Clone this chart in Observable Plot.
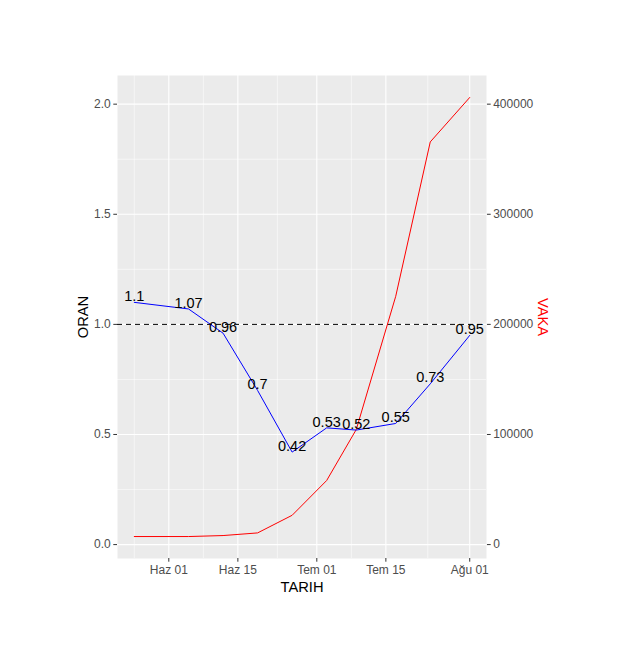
<!DOCTYPE html>
<html><head><meta charset="utf-8">
<script src="https://cdn.jsdelivr.net/npm/d3@7"></script>
<script src="https://cdn.jsdelivr.net/npm/@observablehq/plot@0.6"></script>
<style>body{margin:0;background:#fff;} #chart svg{display:block;}</style>
</head><body><div id="chart"></div>
<script>
// ---- data ----
const dates = ["2020-05-25","2020-06-05","2020-06-12","2020-06-19","2020-06-26","2020-07-03","2020-07-09","2020-07-17","2020-07-24","2020-08-01"];
const oran = [1.1, 1.07, 0.96, 0.7, 0.42, 0.53, 0.52, 0.55, 0.73, 0.95];
const vaka = [7300, 7300, 8200, 10600, 26600, 58200, 104500, 225500, 365700, 406100];
const xTickDates = ["2020-06-01","2020-06-15","2020-07-01","2020-07-15","2020-08-01"];
const xTickLabels = ["Haz 01","Haz 15","Tem 01","Tem 15","Ağu 01"];
const yTicks = [0, 0.5, 1, 1.5, 2];
const yMinorTicks = [0.25, 0.75, 1.25, 1.75];
const secondScale = 200000; // VAKA = ORAN * 200000
const refLine = 1;

// ---- build ----
const parse = s => new Date(s + "T00:00:00Z");
const data = dates.map((d, i) => ({date: parse(d), oran: oran[i], vaka: vaka[i], v2: vaka[i] / secondScale}));
const xMajor = xTickDates.map(parse);
const labelMap = new Map(xMajor.map((d, i) => [+d, xTickLabels[i]]));
const step = xMajor[1] - xMajor[0];
const xMinor = [new Date(+xMajor[0] - step / 2)];
for (let i = 0; i < xMajor.length - 1; i++) xMinor.push(new Date((+xMajor[i] + +xMajor[i + 1]) / 2));

const ext = d3.extent(data, d => d.date);
const span = ext[1] - ext[0];
const xDomain = [new Date(+ext[0] - 0.05 * span), new Date(+ext[1] + 0.05 * span)];
const yAll = [...oran, ...data.map(d => d.v2)];
const [ymin, ymax] = d3.extent(yAll);
const yr = ymax - ymin;
const yDomain = [ymin - 0.05 * yr, ymax + 0.05 * yr];

const font = "'Liberation Sans', Arial, sans-serif";
const tickColor = "#4D4D4D";

const chart = Plot.plot({
  width: 629, height: 671,
  marginLeft: 117, marginRight: 143, marginTop: 75, marginBottom: 113,
  style: {fontFamily: font, background: "white", overflow: "visible"},
  x: {type: "utc", domain: xDomain},
  y: {domain: yDomain},
  marks: [
    Plot.frame({fill: "#EBEBEB", stroke: null}),
    Plot.gridX(xMinor, {stroke: "white", strokeOpacity: 1, strokeWidth: 0.55}),
    Plot.gridY(yMinorTicks, {stroke: "white", strokeOpacity: 1, strokeWidth: 0.55}),
    Plot.gridX(xMajor, {stroke: "white", strokeOpacity: 1, strokeWidth: 1.1}),
    Plot.gridY(yTicks, {stroke: "white", strokeOpacity: 1, strokeWidth: 1.1}),
    Plot.ruleY([refLine], {stroke: "black", strokeWidth: 1, strokeDasharray: "5,4"}),
    Plot.line(data, {x: "date", y: "v2", stroke: "red", strokeWidth: 1}),
    Plot.line(data, {x: "date", y: "oran", stroke: "blue", strokeWidth: 1}),
    Plot.text(data, {x: "date", y: "oran", text: d => String(d.oran), dy: -6, fontSize: 14.5, fill: "black"}),
    Plot.axisX(xMajor, {tickFormat: d => labelMap.get(+d), tickSize: 3.7, tickPadding: 3, fontSize: 12, color: tickColor, stroke: "#333333", label: null}),
    Plot.axisY(yTicks, {anchor: "left", tickFormat: d3.format(".1f"), tickSize: 3.7, tickPadding: 3, fontSize: 12, color: tickColor, stroke: "#333333", label: null}),
    Plot.axisY(yTicks, {anchor: "right", tickFormat: d => String(Math.round(d * secondScale)), tickSize: 3.7, tickPadding: 3, fontSize: 12, color: tickColor, stroke: "#333333", label: null}),
    Plot.text(["ORAN"], {frameAnchor: "left", textAnchor: "middle", lineAnchor: "middle", text: d => d, rotate: -90, dx: -34, fontSize: 14.7, fill: "black"}),
    Plot.text(["TARIH"], {frameAnchor: "bottom", text: d => d, dy: 33, fontSize: 14.7, fill: "black"}),
    Plot.text(["VAKA"], {frameAnchor: "right", textAnchor: "middle", lineAnchor: "middle", text: d => d, rotate: 90, dx: 56, fontSize: 14.7, fill: "red"})
  ]
});
document.getElementById("chart").appendChild(chart);
</script>
</body></html>
